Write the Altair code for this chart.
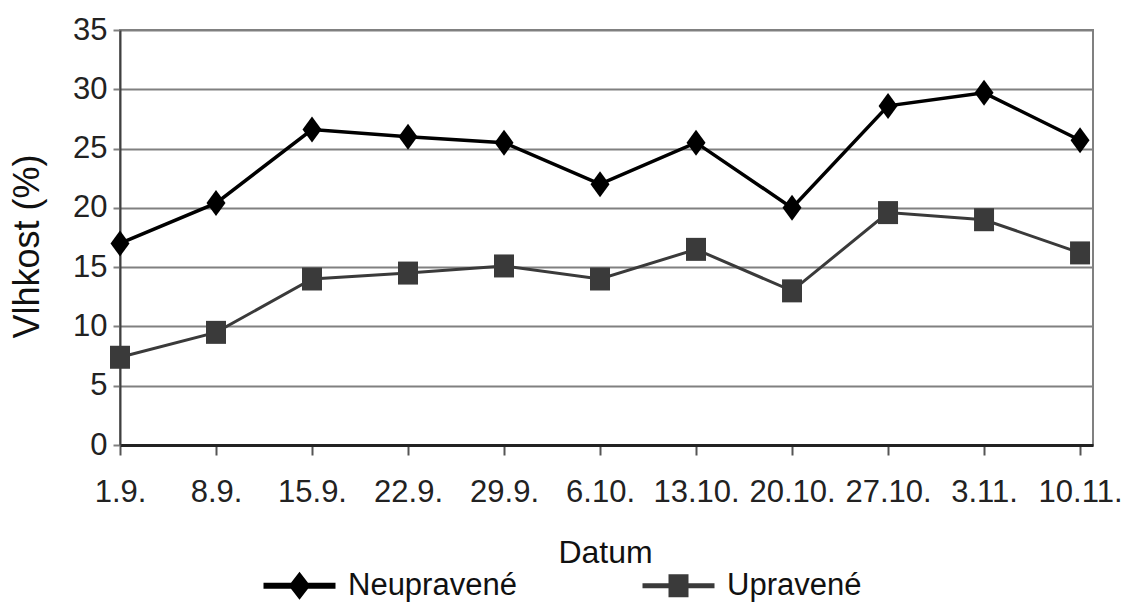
import altair as alt
import pandas as pd

# Weekly sampling dates and measured moisture (%) for both variants
dates = ["1.9.", "8.9.", "15.9.", "22.9.", "29.9.", "6.10.", "13.10.",
         "20.10.", "27.10.", "3.11.", "10.11."]
neupravene = [17.0, 20.4, 26.6, 26.0, 25.5, 22.0, 25.5, 20.0, 28.6, 29.7, 25.7]
upravene = [7.4, 9.5, 14.0, 14.5, 15.1, 14.0, 16.5, 13.0, 19.6, 19.0, 16.2]

series_names = ["Neupravené", "Upravené"]
series_values = [neupravene, upravene]
series_colors = ["#000000", "#3a3a3a"]
line_widths = [3.5, 3]

# Marker outlines (unit coordinates, scaled by the symbol size)
marker_paths = [
    "M0,-1.3L0.95,0L0,1.3L-0.95,0Z",
    "M-1,-1.15H1V1.15H-1Z",
]
# Legend glyphs: a short line segment with the marker on it
legend_paths = [
    "M-3.6,-0.3H-0.85L0,-1.4L0.85,-0.3H3.6V0.3H0.85L0,1.4L-0.85,0.3H-3.6Z",
    "M-3.6,-0.25H-1V-1.15H1V-0.25H3.6V0.25H1V1.15H-1V0.25H-3.6Z",
]

rows = []
for name, values in zip(series_names, series_values):
    for i, (d, v) in enumerate(zip(dates, values)):
        rows.append({"i": i, "datum": d, "serie": name, "v": v})
df = pd.DataFrame(rows)

narrow = "'Liberation Sans Narrow', 'Arial Narrow', 'Liberation Sans', sans-serif"
regular = "'Liberation Sans', Arial, sans-serif"

label_expr = "[" + ",".join("'%s'" % d for d in dates) + "][datum.value]"

x_enc = alt.X(
    "i:Q",
    scale=alt.Scale(domain=[0, 10.135], nice=False, zero=False),
    axis=alt.Axis(
        values=list(range(len(dates))),
        labelExpr=label_expr,
        title="Datum",
        grid=False,
        domainColor="#222222",
        domainWidth=3,
        tickColor="#555555",
        tickWidth=2,
        tickSize=10,
        labelPadding=22,
        labelFont=narrow,
        labelFontSize=31,
        labelColor="#222222",
        labelFlush=False,
        titleFont=regular,
        titleFontSize=32,
        titleFontWeight="normal",
        titleColor="#111111",
        titleX=485,
        titleY=107,
        titleBaseline="middle",
    ),
)
y_enc = alt.Y(
    "v:Q",
    scale=alt.Scale(domain=[0, 35], nice=False),
    axis=alt.Axis(
        values=[0, 5, 10, 15, 20, 25, 30, 35],
        title="Vlhkost (%)",
        grid=True,
        gridColor="#808080",
        gridWidth=2,
        domainColor="#404040",
        domainWidth=2,
        tickColor="#808080",
        tickWidth=2,
        tickSize=7,
        labelPadding=6,
        labelFont=narrow,
        labelFontSize=31,
        labelColor="#222222",
        labelFlush=False,
        titleFont=regular,
        titleFontSize=36,
        titleFontWeight="normal",
        titleColor="#111111",
        titleX=-93,
        titleY=216,
        titleBaseline="middle",
    ),
)

base = alt.Chart(df)

layers = []
for name, color, width, path in zip(series_names, series_colors, line_widths, marker_paths):
    sub = base.transform_filter(alt.datum.serie == name)
    layers.append(sub.mark_line(color=color, strokeWidth=width).encode(x=x_enc, y=y_enc))
    layers.append(
        sub.mark_point(shape=path, filled=True, size=400, color=color, opacity=1, strokeWidth=0)
        .encode(x=x_enc, y=y_enc)
    )

legend = alt.Legend(
    title=None,
    orient="none",
    legendX=164,
    legendY=540,
    direction="horizontal",
    labelFont=regular,
    labelFontSize=31,
    labelColor="#111111",
    labelOffset=33,
    labelLimit=0,
    symbolSize=400,
    symbolStrokeWidth=0,
    columnPadding=125,
    padding=0,
)

legend_layer = base.transform_filter("datum.v < 0").mark_point(
    filled=True, opacity=1, size=400, strokeWidth=0
).encode(
    x=x_enc,
    y=y_enc,
    color=alt.Color("serie:N", scale=alt.Scale(domain=series_names, range=series_colors), legend=legend),
    shape=alt.Shape("serie:N", scale=alt.Scale(domain=series_names, range=legend_paths), legend=legend),
)
layers.append(legend_layer)

chart = alt.layer(*layers).properties(
    width=973,
    height=415,
    autosize=alt.AutoSizeParams(type="none"),
    padding={"left": 120, "top": 30, "right": 35, "bottom": 160},
    background="white",
).configure_view(stroke="#808080", strokeWidth=2)

chart.save("out.html", embed_options={"renderer": "svg", "actions": False})
